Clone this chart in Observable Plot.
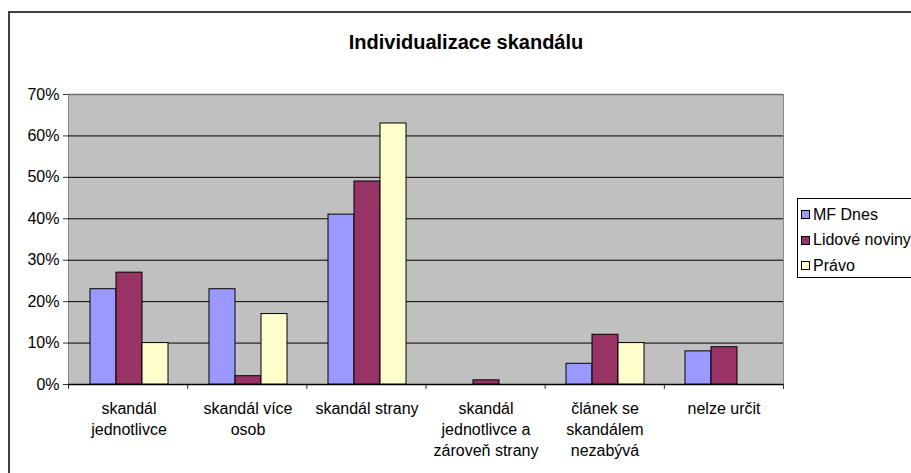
<!DOCTYPE html>
<html><head><meta charset="utf-8">
<script src="https://cdn.jsdelivr.net/npm/d3@7"></script>
<script src="https://cdn.jsdelivr.net/npm/@observablehq/plot@0.6"></script>
<style>
html,body{margin:0;padding:0;width:911px;height:473px;overflow:hidden;background:#fff;font-family:"Liberation Sans",Arial,sans-serif;}
#wrap{position:relative;width:911px;height:473px;overflow:hidden;}
#border{position:absolute;left:8px;top:11px;width:1000px;height:1000px;border-left:2px solid #404040;border-top:2px solid #404040;}
#title{position:absolute;left:0;width:932px;top:32px;text-align:center;font-weight:bold;font-size:20px;line-height:20px;color:#000;}
.layer{position:absolute;left:0;top:0;}
#legend{position:absolute;left:797px;top:198px;width:140px;height:80px;border:1px solid #000;background:#fff;box-sizing:border-box;padding-top:3px;}
.row{height:25.5px;display:flex;align-items:center;font-size:16px;white-space:nowrap;}
.sw{width:7px;height:7px;border:1px solid #000;margin-left:3px;margin-right:3px;flex:none;}
</style></head>
<body>
<div id="wrap">
  <div id="border"></div>
  <div id="title">Individualizace skandálu</div>
  <div id="bg" class="layer"></div>
  <div id="fg" class="layer"></div>
  <div id="legend"></div>
</div>
<script>
const categories = ["skandál jednotlivce", "skandál více osob", "skandál strany", "skandál jednotlivce a zároveň strany", "článek se skandálem nezabývá", "nelze určit"];
const categoryLabels = ["skandál\njednotlivce", "skandál více\nosob", "skandál strany", "skandál\njednotlivce a\nzároveň strany", "článek se\nskandálem\nnezabývá", "nelze určit"];
const series = ["MF Dnes", "Lidové noviny", "Právo"];
const seriesColors = ["#9999FF", "#993366", "#FFFFCC"];
const mfDnes = [0.23, 0.23, 0.41, 0.00, 0.05, 0.08];
const lidoveNoviny = [0.27, 0.02, 0.49, 0.01, 0.12, 0.09];
const pravo = [0.10, 0.17, 0.63, 0.00, 0.10, 0.00];
const yTicks = [0, 0.1, 0.2, 0.3, 0.4, 0.5, 0.6, 0.7];

const seriesValues = [mfDnes, lidoveNoviny, pravo];
const data = categories.flatMap((c, i) => series.map((s, j) => ({category: c, series: s, value: seriesValues[j][i]})));

const W = 911, H = 473;
const M = {marginLeft: 68, marginRight: 128, marginTop: 94, marginBottom: 89};
const font = '"Liberation Sans", Arial, sans-serif';

const bg = Plot.plot({
  width: W, height: H, ...M,
  style: {background: "transparent", color: "#000", fontFamily: font, fontSize: "16px"},
  x: {domain: [0, categories.length], axis: null},
  y: {domain: [0, 0.7], axis: null},
  marks: [
    Plot.frame({fill: "#c0c0c0", stroke: "#8a8a8a"}),
    Plot.ruleY(yTicks.filter(t => t > 0 && t < 0.7), {stroke: "#000"}),
    Plot.ruleY([0.7], {stroke: "#707070", strokeWidth: 1.5}),
    Plot.axisY({ticks: yTicks, tickFormat: d3.format(".0%"), tickSize: 5, tickPadding: 4, fontSize: 16, label: null, stroke: "#333"}),
    Plot.axisX({ticks: d3.range(categories.length + 1), tickSize: 5, tickFormat: () => "", label: null, stroke: "#333"}),
    Plot.ruleY([0], {stroke: "#000", strokeWidth: 1.5})
  ]
});
document.getElementById("bg").appendChild(bg);

const fg = Plot.plot({
  width: W, height: H, ...M,
  style: {background: "transparent", color: "#000", fontFamily: font, fontSize: "16px"},
  fx: {domain: categories, padding: 0, label: null},
  x: {domain: series, paddingInner: 0, paddingOuter: 0.735, axis: null},
  y: {domain: [0, 0.7], axis: null},
  color: {domain: series, range: seriesColors},
  marks: [
    Plot.barY(data.filter(d => d.value > 0), {fx: "category", x: "series", y: "value", fill: "series", stroke: "#000", strokeWidth: 1}),
    Plot.axisFx({anchor: "bottom", tickSize: 0, tickPadding: 15, lineHeight: 1.3, fontSize: 16, label: null,
      tickFormat: c => categoryLabels[categories.indexOf(c)]})
  ]
});
document.getElementById("fg").appendChild(fg);

const legend = document.getElementById("legend");
series.forEach((s, i) => {
  const row = document.createElement("div");
  row.className = "row";
  const sw = document.createElement("span");
  sw.className = "sw";
  sw.style.background = seriesColors[i];
  const t = document.createElement("span");
  t.textContent = s;
  row.appendChild(sw); row.appendChild(t);
  legend.appendChild(row);
});
</script>
</body></html>
